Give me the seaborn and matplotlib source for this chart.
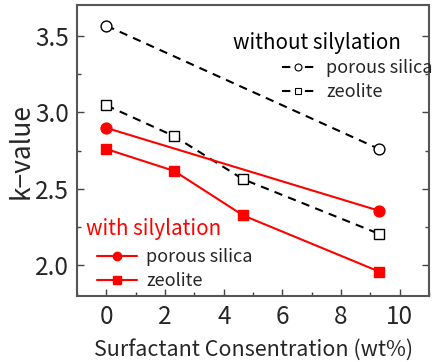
import matplotlib
matplotlib.use("Agg")
import matplotlib.pyplot as plt
import seaborn as sns
import pandas as pd
from matplotlib.lines import Line2D
from matplotlib.ticker import MultipleLocator

sns.set_theme(style="ticks")
plt.rcParams['font.family'] = ['Noto Sans CJK JP', 'DejaVu Sans']
plt.rcParams['lines.scale_dashes'] = False

x_silica = [0, 9.3]
x_zeolite = [0, 2.31, 4.66, 9.3]
without_silica = [3.565, 2.76]
without_zeolite = [3.045, 2.844, 2.563, 2.206]
with_silica = [2.898, 2.357]
with_zeolite = [2.76, 2.617, 2.327, 1.96]

fig = plt.figure(figsize=(4.33, 3.62), dpi=100)
ax = fig.add_axes([0.178, 0.182, 0.813, 0.804])

dash = (6, 4.5)
series = [
    (x_silica, without_silica, 'black', 'o', 'none', dash),
    (x_zeolite, without_zeolite, 'black', 's', 'none', dash),
    (x_silica, with_silica, 'red', 'o', 'red', None),
    (x_zeolite, with_zeolite, 'red', 's', 'red', None),
]
for xs, ys, c, m, fc, d in series:
    df = pd.DataFrame({'x': xs, 'y': ys})
    line_kw = dict(color=c, linewidth=1.5, marker=m, markersize=7.8,
                   markerfacecolor=fc if fc != 'none' else 'white',
                   markeredgecolor=c, markeredgewidth=1.0)
    sns.lineplot(data=df, x='x', y='y', ax=ax, **line_kw)
    ln = ax.lines[-1]
    if d is not None:
        ln.set_dashes(d)

ax.set_xlim(-1, 11)
ax.set_ylim(1.8, 3.7)
ax.xaxis.set_major_locator(MultipleLocator(2))
ax.xaxis.set_minor_locator(MultipleLocator(1))
ax.yaxis.set_major_locator(MultipleLocator(0.5))
ax.yaxis.set_minor_locator(MultipleLocator(0.25))
ax.tick_params(which='both', direction='in', top=False, right=True, color='#444444')
ax.tick_params(which='major', length=5, width=1, labelsize=17.5, pad=6)
ax.tick_params(which='minor', length=3, width=1)
for s in ax.spines.values():
    s.set_color('#555555')
    s.set_linewidth(1.5)
ax.set_xlabel('Surfactant Consentration (wt%)', fontsize=15.5, labelpad=6)
ax.set_ylabel('k\u2212value', fontsize=19, labelpad=0)

ax.text(0.443, 0.87, 'without silylation', transform=ax.transAxes, fontsize=14.8,
        color='black', va='center', ha='left')
ax.text(0.026, 0.23, 'with silylation', transform=ax.transAxes, fontsize=14.8,
        color='red', va='center', ha='left')

h1 = [Line2D([], [], color='black', lw=1.5, dashes=(6, 10.5), marker='o', markersize=5,
             markerfacecolor='white', markeredgecolor='black', markeredgewidth=0.8),
      Line2D([], [], color='black', lw=1.5, dashes=(6, 10.5), marker='s', markersize=5,
             markerfacecolor='white', markeredgecolor='black', markeredgewidth=0.8)]
leg1 = ax.legend(h1, ['porous silica', 'zeolite'], loc='center left',
                 bbox_to_anchor=(0.583, 0.742), frameon=False, fontsize=13,
                 handlelength=1.73, handletextpad=0.7, labelspacing=0.35,
                 borderpad=0, borderaxespad=0)
ax.add_artist(leg1)
h2 = [Line2D([], [], color='red', lw=1.5, marker='o', markersize=6,
             markerfacecolor='red', markeredgecolor='red'),
      Line2D([], [], color='red', lw=1.5, marker='s', markersize=6,
             markerfacecolor='red', markeredgecolor='red')]
ax.legend(h2, ['porous silica', 'zeolite'], loc='center left',
          bbox_to_anchor=(0.057, 0.092), frameon=False, fontsize=13,
          handlelength=2.2, handletextpad=0.5, labelspacing=0.35,
          borderpad=0, borderaxespad=0)

fig.savefig('out.png', dpi=100)
